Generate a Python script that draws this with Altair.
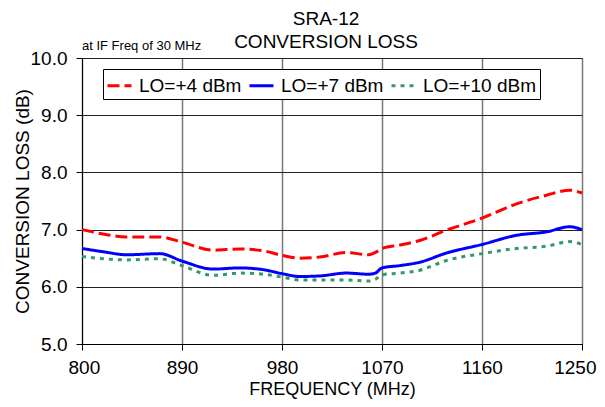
import altair as alt
import pandas as pd

# ---- data ----
freq = [800, 820, 840, 870, 890, 918, 942, 963, 980, 996, 1014, 1038, 1058, 1064,
        1070, 1086, 1104, 1128, 1160, 1191, 1218, 1239, 1250]
lo4 = [7.00, 6.92, 6.87, 6.87, 6.78, 6.64, 6.66, 6.63, 6.55, 6.50, 6.52, 6.60, 6.56,
       6.60, 6.67, 6.73, 6.81, 6.99, 7.20, 7.45, 7.60, 7.69, 7.64]
lo7 = [6.67, 6.61, 6.56, 6.58, 6.45, 6.31, 6.33, 6.30, 6.23, 6.18, 6.19, 6.24, 6.22,
       6.24, 6.33, 6.37, 6.43, 6.59, 6.74, 6.90, 6.96, 7.05, 7.00]
lo10 = [6.53, 6.49, 6.47, 6.49, 6.37, 6.20, 6.24, 6.22, 6.17, 6.12, 6.12, 6.12, 6.10,
        6.13, 6.21, 6.24, 6.29, 6.46, 6.58, 6.67, 6.71, 6.79, 6.74]

series_names = ["LO=+4 dBm", "LO=+7 dBm", "LO=+10 dBm"]
series_colors = ["#ff0000", "#0000ff", "#339966"]
series_dashes = [[12, 5], [1, 0], [4, 5]]
x_ticks = [800, 890, 980, 1070, 1160, 1250]
y_ticks = [5, 6, 7, 8, 9, 10]
title_lines = ["SRA-12", "CONVERSION LOSS"]
note_text = ["at IF Freq of 30 MHz"]

rows = []
for name, vals in zip(series_names, [lo4, lo7, lo10]):
    for f, v in zip(freq, vals):
        rows.append({"freq": f, "loss": v, "series": name})
df = pd.DataFrame(rows)

FONT = "Liberation Sans"

legend_opts = dict(
    title=None, orient="none", legendX=21, legendY=11, direction="horizontal",
    symbolType="stroke", symbolSize=576, symbolStrokeWidth=3,
    labelFont=FONT, labelFontSize=19, labelColor="black",
    labelOffset=6, columnPadding=1, padding=3,
    strokeColor="black", fillColor="white",
)

lines = alt.Chart(df).mark_line(strokeWidth=3, interpolate="monotone").encode(
    x=alt.X("freq:Q",
            scale=alt.Scale(domain=[800, 1250], nice=False, zero=False),
            axis=alt.Axis(values=x_ticks, format="d", title="FREQUENCY (MHz)",
                          gridColor="#777777", gridWidth=1.5,
                          labelFlush=True, labelFlushOffset=14,
                          labelPadding=8, titlePadding=3, titleFontSize=18)),
    y=alt.Y("loss:Q",
            scale=alt.Scale(domain=[5, 10], nice=False, zero=False),
            axis=alt.Axis(values=y_ticks, format=".1f", title="CONVERSION LOSS (dB)",
                          gridColor="#222222", gridWidth=1, labelFlush=False,
                          labelPadding=9, titlePadding=-2)),
    color=alt.Color("series:N",
                    scale=alt.Scale(domain=series_names, range=series_colors),
                    legend=alt.Legend(**legend_opts)),
    strokeDash=alt.StrokeDash("series:N",
                              scale=alt.Scale(domain=series_names, range=series_dashes),
                              legend=alt.Legend(**legend_opts)),
)

note = alt.Chart(pd.DataFrame({"t": note_text})).mark_text(
    align="left", baseline="alphabetic", font=FONT, fontSize=13, color="black"
).encode(x=alt.value(0), y=alt.value(-8), text="t:N")

chart = alt.layer(lines, note).properties(
    width=500, height=286,
    autosize=alt.AutoSizeParams(type="none"),
    padding={"left": 74, "top": 50, "right": 15, "bottom": 55},
    title=alt.TitleParams(text=title_lines, font=FONT, fontSize=19, fontWeight="normal",
                          color="black", anchor="middle", offset=8, lineHeight=23.4,
                          dx=-6, dy=20),
).configure_axis(
    labelFont=FONT, labelFontSize=19, labelColor="black",
    titleFont=FONT, titleFontSize=19, titleFontWeight="normal", titleColor="black",
    domainColor="black", domainWidth=1, tickColor="black", tickSize=6, tickWidth=1,
).configure_view(stroke="black", strokeWidth=1)

chart.save("out.html", embed_options={"renderer": "svg", "actions": False})
